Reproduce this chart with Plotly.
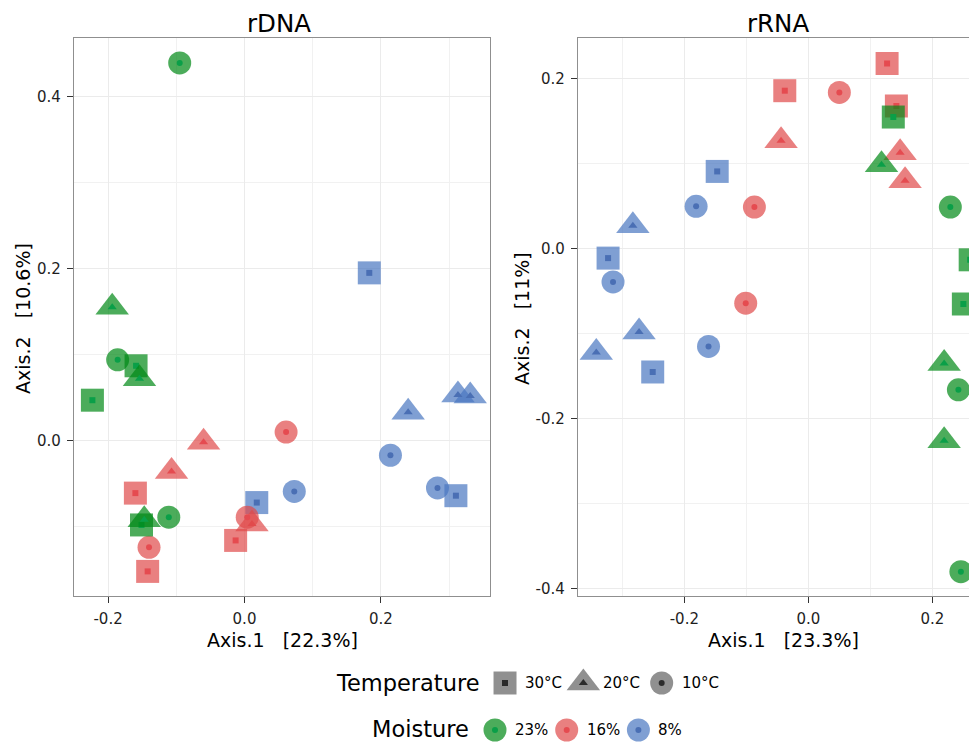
import plotly.graph_objects as go

# ---------------- data ----------------
temperatures = ["30°C", "20°C", "10°C"]
moistures = ["23%", "16%", "8%"]

# rDNA ordination (Axis.1, Axis.2)
rdna_axis1 = [-0.095, -0.186, -0.111, -0.159, -0.223, -0.151, -0.194, -0.154, -0.147,
              -0.060, -0.107, 0.011, 0.061, -0.140, 0.004, -0.160, -0.142, -0.013,
              0.183, 0.310, 0.018, 0.240, 0.313, 0.331, 0.214, 0.073, 0.283]
rdna_axis2 = [0.439, 0.094, -0.089, 0.087, 0.047, -0.098, 0.155, 0.072, -0.092,
              -0.002, -0.036, -0.097, 0.010, -0.124, -0.089, -0.061, -0.152, -0.116,
              0.195, -0.064, -0.072, 0.033, 0.053, 0.052, -0.017, -0.059, -0.055]
rdna_temp = ["10°C", "10°C", "10°C", "30°C", "30°C", "30°C", "20°C", "20°C", "20°C",
             "20°C", "20°C", "20°C", "10°C", "10°C", "10°C", "30°C", "30°C", "30°C",
             "30°C", "30°C", "30°C", "20°C", "20°C", "20°C", "10°C", "10°C", "10°C"]
rdna_moist = ["23%"] * 9 + ["16%"] * 9 + ["8%"] * 9

# rRNA ordination (Axis.1, Axis.2)
rrna_axis1 = [0.127, -0.038, 0.142, 0.050, -0.087, -0.101, -0.044, 0.148, 0.156,
              0.137, 0.261, 0.250, 0.118, 0.219, 0.219, 0.229, 0.242, 0.246,
              -0.147, -0.323, -0.251, -0.181, -0.315, -0.161, -0.283, -0.273, -0.342]
rrna_axis2 = [0.218, 0.186, 0.168, 0.184, 0.049, -0.064, 0.127, 0.113, 0.080,
              0.155, -0.013, -0.065, 0.099, -0.135, -0.226, 0.049, -0.166, -0.380,
              0.091, -0.011, -0.145, 0.050, -0.039, -0.115, 0.027, -0.098, -0.122]
rrna_temp = ["30°C", "30°C", "30°C", "10°C", "10°C", "10°C", "20°C", "20°C", "20°C",
             "30°C", "30°C", "30°C", "20°C", "20°C", "20°C", "10°C", "10°C", "10°C",
             "30°C", "30°C", "30°C", "10°C", "10°C", "10°C", "20°C", "20°C", "20°C"]
rrna_moist = ["16%"] * 9 + ["23%"] * 9 + ["8%"] * 9

panel_titles = ["rDNA", "rRNA"]
x_titles = ["Axis.1\u00a0\u00a0\u00a0[22.3%]", "Axis.1\u00a0\u00a0\u00a0[23.3%]"]
y_titles = ["Axis.2\u00a0\u00a0\u00a0[10.6%]", "Axis.2\u00a0\u00a0\u00a0[11%]"]

rdna_xticks = [-0.2, 0.0, 0.2]
rdna_xticklabels = ["-0.2", "0.0", "0.2"]
rdna_xminor = [-0.1, 0.1, 0.3]
rdna_yticks = [0.0, 0.2, 0.4]
rdna_yticklabels = ["0.0", "0.2", "0.4"]
rdna_yminor = [-0.1, 0.1, 0.3]

rrna_xticks = [-0.2, 0.0, 0.2]
rrna_xticklabels = ["-0.2", "0.0", "0.2"]
rrna_xminor = [-0.3, -0.1, 0.1]
rrna_yticks = [-0.4, -0.2, 0.0, 0.2]
rrna_yticklabels = ["-0.4", "-0.2", "0.0", "0.2"]
rrna_yminor = [-0.3, -0.1, 0.1]

# ---------------- styles ----------------
PAGE_W, PAGE_H = 977, 742
OFF = 8                      # default body margin of the html page
W, H = PAGE_W - OFF, PAGE_H - OFF
FONT = "DejaVu Sans"
symbol_of = {"30°C": "square", "20°C": "triangle-up", "10°C": "circle"}
outer_size = {"30°C": 23, "20°C": 29, "10°C": 23}
inner_size = {"30°C": 6, "20°C": 8, "10°C": 6}
outer_color = {"23%": "rgba(0,137,22,0.70)", "16%": "rgba(224,74,74,0.70)", "8%": "rgba(72,118,192,0.70)"}
inner_color = {"23%": "#0a9f48", "16%": "#e54b50", "8%": "#4a6fb4"}
draw_order = ["8%", "16%", "23%"]


def px_x(p):
    """page pixel -> paper fraction"""
    return (p - OFF) / W


def px_y(p):
    return 1 - (p - OFF) / H


fig = go.Figure()

panels = [
    (rdna_axis1, rdna_axis2, rdna_temp, rdna_moist, "x", "y"),
    (rrna_axis1, rrna_axis2, rrna_temp, rrna_moist, "x2", "y2"),
]
for ax1, ax2, tmp, mst, xa, ya in panels:
    for m in draw_order:
        for t in temperatures:
            xs = [a for a, tt, mm in zip(ax1, tmp, mst) if tt == t and mm == m]
            ys = [b for b, tt, mm in zip(ax2, tmp, mst) if tt == t and mm == m]
            if not xs:
                continue
            fig.add_trace(go.Scatter(
                x=xs, y=ys, xaxis=xa, yaxis=ya, mode="markers", showlegend=False,
                cliponaxis=(xa == "x2"), hoverinfo="skip",
                marker=dict(symbol=symbol_of[t], size=outer_size[t], color=outer_color[m],
                            line=dict(width=0))))
            fig.add_trace(go.Scatter(
                x=xs, y=ys, xaxis=xa, yaxis=ya, mode="markers", showlegend=False,
                cliponaxis=(xa == "x2"), hoverinfo="skip",
                marker=dict(symbol=symbol_of[t], size=inner_size[t], color=inner_color[m],
                            line=dict(width=0))))

# legend keys drawn on hidden category axes
fig.add_trace(go.Scatter(
    x=temperatures, y=[0] * len(temperatures), xaxis="x3", yaxis="y3", mode="markers",
    showlegend=False, hoverinfo="skip", cliponaxis=False,
    marker=dict(symbol=[symbol_of[t] for t in temperatures], size=[outer_size[t] for t in temperatures],
                color="rgba(0,0,0,0.62)", line=dict(width=0))))
fig.add_trace(go.Scatter(
    x=temperatures, y=[0] * len(temperatures), xaxis="x3", yaxis="y3", mode="markers",
    showlegend=False, hoverinfo="skip", cliponaxis=False,
    marker=dict(symbol=[symbol_of[t] for t in temperatures], size=[inner_size[t] for t in temperatures],
                color="black", line=dict(width=0))))
fig.add_trace(go.Scatter(
    x=moistures, y=[0] * len(moistures), xaxis="x4", yaxis="y4", mode="markers",
    showlegend=False, hoverinfo="skip", cliponaxis=False,
    marker=dict(symbol="circle", size=23, color=[outer_color[m] for m in moistures], line=dict(width=0))))
fig.add_trace(go.Scatter(
    x=moistures, y=[0] * len(moistures), xaxis="x4", yaxis="y4", mode="markers",
    showlegend=False, hoverinfo="skip", cliponaxis=False,
    marker=dict(symbol="circle", size=6, color=[inner_color[m] for m in moistures], line=dict(width=0))))

GRID = "#ebebeb"
BORDER = "#8f8f8f"
tickfont = dict(family=FONT, size=15, color="#1e1e1e")


def axis(domain, rng, tickvals, ticktext, minor_vals, anchor, mirror):
    return dict(domain=domain, range=rng, anchor=anchor, tickmode="array", tickvals=tickvals,
                ticktext=ticktext, ticks="outside", ticklen=6, tickwidth=1.2, tickcolor="#333333",
                ticklabelstandoff=3,
                tickfont=tickfont, showgrid=True, gridcolor=GRID, gridwidth=1.1, zeroline=False,
                showline=True, linecolor=BORDER, linewidth=1.3, mirror=mirror,
                minor=dict(tickmode="array", tickvals=minor_vals, showgrid=True, gridcolor="#f1f1f1",
                           gridwidth=1, ticks=""),
                fixedrange=True)


ydom = [px_y(596), px_y(38)]
fig.update_layout(
    width=W, height=H, margin=dict(l=0, r=0, t=0, b=0),
    paper_bgcolor="white", plot_bgcolor="white", template="none",
    font=dict(family=FONT, color="black"),
    xaxis=axis([px_x(74), px_x(490)], [-0.250, 0.360], rdna_xticks, rdna_xticklabels, rdna_xminor, "y", True),
    yaxis=axis(ydom, [-0.1806, 0.468], rdna_yticks, rdna_yticklabels, rdna_yminor, "x", True),
    xaxis2=axis([px_x(578), 1.0], [-0.3715, 0.272], rrna_xticks, rrna_xticklabels, rrna_xminor, "y2", True),
    yaxis2=axis(ydom, [-0.4086, 0.248], rrna_yticks, rrna_yticklabels, rrna_yminor, "x2", False),
    xaxis3=dict(domain=[px_x(465.85), px_x(700.85)], type="category", categoryarray=temperatures,
                range=[-0.5, 2.5], anchor="y3", visible=False, fixedrange=True),
    yaxis3=dict(domain=[px_y(703), px_y(663)], range=[-1, 1], anchor="x3", visible=False, fixedrange=True),
    xaxis4=dict(domain=[px_x(459.15), px_x(674.25)], type="category", categoryarray=moistures,
                range=[-0.5, 2.5], anchor="y4", visible=False, fixedrange=True),
    yaxis4=dict(domain=[0.0, px_y(718)], range=[-1, 1], anchor="x4", visible=False, fixedrange=True),
)

ann = []
for title, cx in zip(panel_titles, [279, 778]):
    ann.append(dict(text=title, x=px_x(cx), y=px_y(23), xref="paper", yref="paper",
                    xanchor="center", yanchor="middle", showarrow=False,
                    font=dict(family=FONT, size=24.5, color="black")))
for title, cx in zip(x_titles, [282, 783]):
    ann.append(dict(text=title, x=px_x(cx), y=px_y(640), xref="paper", yref="paper",
                    xanchor="center", yanchor="middle", showarrow=False,
                    font=dict(family=FONT, size=19, color="black")))
for title, cx in zip(y_titles, [23, 522]):
    ann.append(dict(text=title, x=px_x(cx), y=px_y(319), xref="paper", yref="paper",
                    xanchor="center", yanchor="middle", showarrow=False, textangle=-90,
                    font=dict(family=FONT, size=19, color="black")))
ann.append(dict(text="Temperature", x=px_x(482), y=px_y(683), xref="paper", yref="paper",
                xanchor="right", yanchor="middle", showarrow=False,
                font=dict(family=FONT, size=22.5, color="black")))
ann.append(dict(text="Moisture", x=px_x(471), y=px_y(729), xref="paper", yref="paper",
                xanchor="right", yanchor="middle", showarrow=False,
                font=dict(family=FONT, size=22.5, color="black")))
for t in temperatures:
    ann.append(dict(text=t, x=t, y=0, xref="x3", yref="y3", xanchor="left", yanchor="middle",
                    xshift=18, showarrow=False, font=dict(family=FONT, size=15, color="black")))
for m in moistures:
    ann.append(dict(text=m, x=m, y=0, xref="x4", yref="y4", xanchor="left", yanchor="middle",
                    xshift=18, showarrow=False, font=dict(family=FONT, size=15, color="black")))
fig.update_layout(annotations=ann)

fig.write_html("out.html")
